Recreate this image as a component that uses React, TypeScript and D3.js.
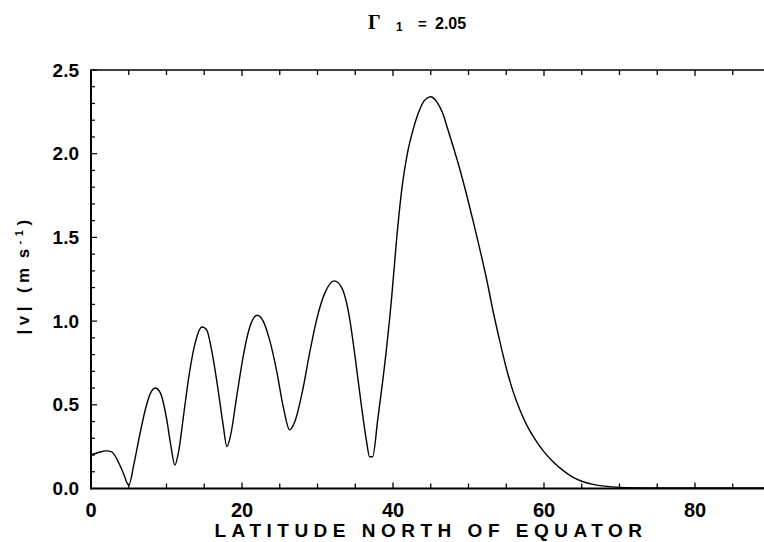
import React from "react";
import * as d3 from "d3";

const latitude = [
  0, 1, 2, 2.7, 3.5, 4.3, 5.0,
  5.7, 6.5, 7.3, 8.0, 8.5, 9.2, 10.0, 10.6, 11.1,
  11.6, 12.3, 13.0, 13.8, 14.7, 15.3, 16.0, 16.8, 17.5, 18.0,
  18.5, 19.3, 20.2, 21.0, 22.0, 22.8, 23.7, 24.6, 25.5, 26.3,
  27.0, 28.0, 29.0, 30.0, 31.0, 32.2, 33.2, 34.2, 35.0, 35.8, 36.5, 36.9, 37.3,
  38.0, 39.0, 39.8, 40.5, 41.2, 41.9, 42.7, 43.5, 44.2, 45.0, 45.8, 46.6, 47.3,
  48.9, 50.6, 51.5, 52.4, 53.3, 54.2, 55.0, 55.9, 56.8, 57.7, 58.8, 59.9, 61.2,
  62.6, 63.8, 65.1, 66.5, 68.0, 70.0, 75.0, 82.0, 90.0,
];
const speed = [
  0.2, 0.215, 0.225, 0.22, 0.17, 0.09, 0.02,
  0.15, 0.33, 0.49, 0.58, 0.6, 0.57, 0.42, 0.25, 0.14,
  0.22, 0.45, 0.68, 0.87, 0.965, 0.95, 0.82, 0.6, 0.38, 0.25,
  0.32, 0.55, 0.8, 0.96, 1.035, 1.0, 0.88, 0.7, 0.48, 0.35,
  0.4, 0.58, 0.82, 1.03, 1.17, 1.24, 1.2, 1.03, 0.78, 0.5, 0.28, 0.19, 0.19,
  0.42, 0.78, 1.13, 1.5, 1.8, 2.0, 2.15, 2.26, 2.32, 2.34, 2.31, 2.24, 2.14,
  1.9, 1.6, 1.43, 1.25, 1.05, 0.87, 0.72, 0.58, 0.47, 0.38, 0.295, 0.225, 0.16,
  0.105, 0.068, 0.042, 0.025, 0.014, 0.007, 0.004, 0.003, 0.003,
];
const xTickLabels = [0, 20, 40, 60, 80];
const yTickLabels = [0.0, 0.5, 1.0, 1.5, 2.0, 2.5];

const W = 764;
const H = 542;

export default function App() {
  const x = d3.scaleLinear().domain([0, 90]).range([91, 91 + 90 * 7.55]);
  const y = d3.scaleLinear().domain([0, 2.5]).range([488.5, 70]);
  const pts: [number, number][] = latitude.map((l, i) => [l, speed[i]]);
  const line = d3
    .line<[number, number]>()
    .x((d) => x(d[0]))
    .y((d) => y(d[1]))
    .curve(d3.curveMonotoneX);

  const xMinor = d3.range(0, 91, 5);
  const yMinor = d3.range(0, 26).map((i) => i / 10);
  const sans = "'Liberation Sans', Arial, sans-serif";
  const x0 = x(0);
  const y0 = y(0);
  const yTop = y(2.5);
  const xR = x(90);

  return (
    <svg
      width={W}
      height={H}
      style={{ position: "absolute", left: 0, top: 0, background: "#fff" }}
    >
      <rect x={0} y={0} width={W} height={H} fill="#fff" />
      {/* title */}
      <text x={368} y={29} fontFamily="'Liberation Serif', serif" fontWeight="bold" fontSize={20}>
        Γ
      </text>
      <text x={396} y={31} fontFamily={sans} fontWeight="bold" fontSize={12}>
        1
      </text>
      <text x={418} y={29} fontFamily={sans} fontWeight="bold" fontSize={15}>
        =
      </text>
      <text x={435} y={29} fontFamily={sans} fontWeight="bold" fontSize={16}>
        2.05
      </text>

      {/* ticks */}
      {xMinor.map((v) => {
        const len = v % 20 === 0 ? 6 : 5;
        return (
          <g key={"xt" + v}>
            <line x1={x(v)} x2={x(v)} y1={y0} y2={y0 - len} stroke="#000" strokeWidth={1.3} />
            <line x1={x(v)} x2={x(v)} y1={yTop} y2={yTop + len} stroke="#000" strokeWidth={1.3} />
          </g>
        );
      })}
      {yMinor.map((v, i) => {
        const len = i % 5 === 0 ? 6 : 4;
        return (
          <line key={"yt" + i} x1={x0} x2={x0 + len} y1={y(v)} y2={y(v)} stroke="#000" strokeWidth={1.2} />
        );
      })}

      {/* frame */}
      <line x1={x0} x2={xR} y1={yTop} y2={yTop} stroke="#000" strokeWidth={1.5} />
      <line x1={x0} x2={xR} y1={y0} y2={y0} stroke="#000" strokeWidth={2} />
      <line x1={x0} x2={x0} y1={yTop - 0.75} y2={y0 + 1} stroke="#000" strokeWidth={2} />

      {/* curve */}
      <path d={line(pts) || ""} fill="none" stroke="#000" strokeWidth={1.4} />

      {/* tick labels */}
      {xTickLabels.map((v) => (
        <text
          key={"xl" + v}
          x={x(v)}
          y={517}
          textAnchor="middle"
          fontFamily={sans}
          fontWeight="bold"
          fontSize={20}
        >
          {v}
        </text>
      ))}
      {yTickLabels.map((v) => (
        <text
          key={"yl" + v}
          x={79}
          y={y(v)}
          dy="0.35em"
          textAnchor="end"
          fontFamily={sans}
          fontWeight="bold"
          fontSize={19}
        >
          {v.toFixed(1)}
        </text>
      ))}

      {/* axis titles */}
      <text
        x={431}
        y={537}
        textAnchor="middle"
        fontFamily={sans}
        fontWeight="bold"
        fontSize={19}
        letterSpacing={5.5}
      >
        LATITUDE NORTH OF EQUATOR
      </text>
      <text
        transform="translate(29,275) rotate(-90)"
        textAnchor="middle"
        fontFamily={sans}
        fontWeight="bold"
        fontSize={17}
        letterSpacing={4.5}
      >
        <tspan>|v|</tspan>
        <tspan dx={9}>(m</tspan>
        <tspan dx={5}>s</tspan>
        <tspan dy={-6} fontSize={11}>-1</tspan>
        <tspan dy={6}>)</tspan>
      </text>
    </svg>
  );
}
